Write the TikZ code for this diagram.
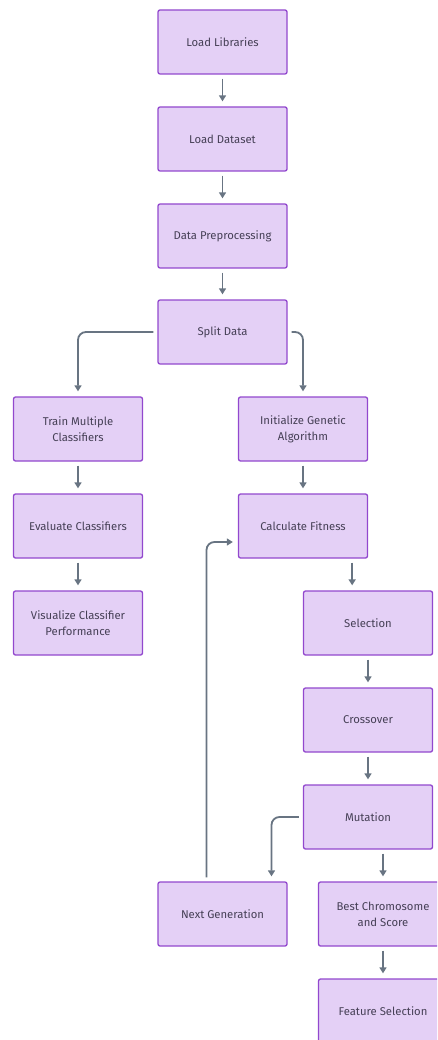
\documentclass[tikz,border=0pt]{standalone}
\usepackage{fontspec}
\setmainfont{Fira Sans}
\usetikzlibrary{calc, arrows.meta}
\definecolor{boxfill}{RGB}{228, 208, 246}
\definecolor{boxline}{RGB}{146, 72, 206}
\definecolor{boxtext}{RGB}{70, 64, 86}
\definecolor{linkgray}{RGB}{104, 116, 130}

\begin{document}
\begin{tikzpicture}[
	x=1pt, y=-1pt,
	>={Triangle[length=6pt, width=7pt]},
	% Styles for the process boxes and the links
	procblock/.style={draw=boxline, line width=1.3pt, fill=boxfill, rounded corners=2pt,
		minimum width=129pt, minimum height=64pt, align=center, text=boxtext,
		font=\fontsize{11.3}{16}\selectfont},
	flowarrow/.style={->, draw=linkgray, line width=1.8pt, rounded corners=8pt,
		shorten <=4pt, shorten >=5pt}
	]
	\useasboundingbox (0,0) rectangle (437,1040);
	\clip (0,0) rectangle (437,1040);
	
	% ==========================================
	% 1. COMMON PREPARATION
	% ==========================================
	\node[procblock] (lib) at (222.5, 42) {Load Libraries};
	\node[procblock] (data) at (222.5, 139) {Load Dataset};
	\node[procblock] (prep) at (222.5, 236) {Data Preprocessing};
	\node[procblock] (split) at (222.5, 332) {Split Data};
	
	% ==========================================
	% 2. CLASSIFIER BRANCH
	% ==========================================
	\node[procblock] (train) at (78, 429) {Train Multiple\\Classifiers};
	\node[procblock] (evalc) at (78, 526) {Evaluate Classifiers};
	\node[procblock] (visual) at (78, 623) {Visualize Classifier\\Performance};
	
	% ==========================================
	% 3. GENETIC ALGORITHM BRANCH
	% ==========================================
	\node[procblock] (initga) at (303, 429) {Initialize Genetic\\Algorithm};
	\node[procblock] (fitness) at (303, 526) {Calculate Fitness};
	\node[procblock] (select) at (368, 623) {Selection};
	\node[procblock] (cross) at (368, 720) {Crossover};
	\node[procblock] (mutate) at (368, 817) {Mutation};
	\node[procblock] (nextgen) at (222.5, 914) {Next Generation};
	\node[procblock] (best) at (383, 914) {Best Chromosome\\and Score};
	\node[procblock] (feature) at (383, 1011) {Feature Selection};
	
	% ==========================================
	% 4. LINKS
	% ==========================================
	\draw[flowarrow] (lib) -- (data);
	\draw[flowarrow] (data) -- (prep);
	\draw[flowarrow] (prep) -- (split);
	\draw[flowarrow] (split.west) -| (train.north);
	\draw[flowarrow] (split.east) -| (initga.north);
	\draw[flowarrow] (train) -- (evalc);
	\draw[flowarrow] (evalc) -- (visual);
	\draw[flowarrow] (initga) -- (fitness);
	\coordinate (fitout) at ($(fitness.south east)+(-16,0)$);
	\draw[flowarrow] (fitout) -- (fitout |- select.north);
	\draw[flowarrow] (select) -- (cross);
	\draw[flowarrow] (cross) -- (mutate);
	\draw[flowarrow] (mutate.west) -| ($(nextgen.north)+(49,0)$);
	\draw[flowarrow] (mutate.south -| best) -- (best);
	\draw[flowarrow] (best) -- (feature);
	
	% Loop back to the fitness step
	\draw[flowarrow] ($(nextgen.north)+(-16,0)$) |- ($(fitness.west)+(0,16)$);
	
\end{tikzpicture}
\end{document}
